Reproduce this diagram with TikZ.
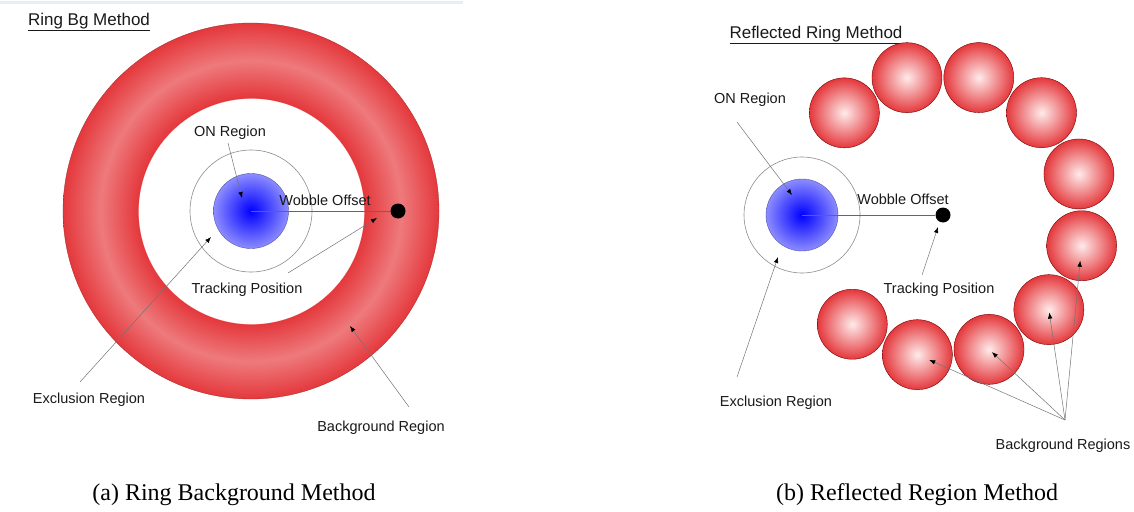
\documentclass[tikz,border=0pt]{standalone}
\usepackage{fontspec}
\setmainfont{Liberation Serif}
\newfontfamily\labelfont{Liberation Sans}
\usetikzlibrary{arrows.meta,calc}
\definecolor{ringred}{RGB}{228,56,60}
\definecolor{ringpale}{RGB}{238,122,124}
\definecolor{topline}{RGB}{230,237,247}
\pgfdeclareradialshading{ringbg}{\pgfpoint{0bp}{0bp}}{color(0bp)=(white); color(15bp)=(white); color(15.05bp)=(ringred); color(20bp)=(ringpale); color(25bp)=(ringred); color(50bp)=(ringred)}
\def\ringout{188}
\def\reflrad{142}

\begin{document}
\begin{tikzpicture}[x=1pt,y=-1pt]
      \tikzstyle{lbl}=[font=\labelfont\fontsize{14.5}{16}\selectfont, text=black!90, inner sep=1pt]
      \tikzstyle{heading}=[lbl, font=\labelfont\fontsize{17}{19}\selectfont]
      \tikzstyle{caption}=[font=\fontsize{24}{28}\selectfont]
      \tikzstyle{region}=[circle, inner sep=0pt]
      \tikzstyle{exclusion}=[region, draw=black!45, line width=0.6pt]
      \tikzstyle{on region}=[region, inner color=blue, outer color=blue!45!white, draw=blue!35!gray, line width=0.4pt]
      \tikzstyle{bg region}=[region, minimum size=70pt, inner color=red!8, outer color=ringred, draw=red!45!black, line width=0.4pt]
      \tikzstyle{track}=[region, fill=black, minimum size=15pt]
      \tikzstyle{wobble line}=[draw=black!60, line width=0.6pt]
      \tikzstyle{pointer}=[-{Latex[length=6pt,width=4.5pt,color=black]}, draw=black!55, line width=0.5pt]

      \useasboundingbox (0,0) rectangle (1134,511);
      \draw[topline, line width=3pt] (0,3) -- (463,3);

      % Ring background method
      \node[heading] (title-a) at (89,22) {\underline{Ring Bg Method}};
      \coordinate (C-a) at (251,211);
      \shade[shading=ringbg] (C-a) circle (\ringout);
      \draw[ringred!70!black, line width=0.3pt] (C-a) circle (\ringout);
      \node[exclusion, minimum size=122pt] (X-a) at (C-a) {};
      \node[on region, minimum size=75pt] (ON-a) at (C-a) {};
      \node[track] (T-a) at (398,211) {};
      \draw[wobble line] (ON-a.center) -- (T-a);

      \node[lbl] (on-a) at (230,133) {ON Region};
      \node[lbl] (wob-a) at (325,200) {Wobble Offset};
      \node[lbl] (trk-a) at (247,290) {Tracking Position};
      \node[lbl] (exc-a) at (89,400) {Exclusion Region};
      \node[lbl] (bkg-a) at (381,428) {Background Region};

      % Reflected region method
      \node[heading] (title-b) at (816,35) {\underline{Reflected Ring Method}};
      \coordinate (C-b) at (802,215);
      \node[exclusion, minimum size=116pt] (X-b) at (C-b) {};
      \node[on region, minimum size=72pt] (ON-b) at (C-b) {};
      \node[track] (T-b) at (943,215) {};
      \draw[wobble line] (ON-b.center) -- (T-b);

      % Background regions on a circle round the tracking position
      \foreach \i in {0,...,9}
          \node[bg region] (B-\i) at ($(T-b)+({-134+29.3*\i}:\reflrad)$) {};

      \node[lbl] (on-b) at (750,100) {ON Region};
      \node[lbl] (wob-b) at (903,199) {Wobble Offset};
      \node[lbl] (trk-b) at (939,290) {Tracking Position};
      \node[lbl] (exc-b) at (776,403) {Exclusion Region};
      \node[lbl] (bkg-b) at (1063,446) {Background Regions};

      % Pointers from the labels
      \foreach \n/\s/\t in {on-a/{228,143}/{242,198}, trk-a/{288,273}/{377,218},
              exc-a/{80,382}/{211,237}, bkg-a/{409,407}/{350,326},
              on-b/{737,122}/{792,195}, trk-b/{922,275}/{938,227},
              exc-b/{737,377}/{778,257}}
      {
          \coordinate (\n-s) at (\s);
          \coordinate (\n-t) at (\t);
          \draw[pointer] (\n-s) -- (\n-t);
      }
      \coordinate (bkg-b-s) at (1065,420);
      \foreach \i/\gap in {5/15pt,6/3pt,7/4pt,8/13pt}
          \draw[pointer, shorten >=\gap] (bkg-b-s) -- (B-\i.center);

      % Captions
      \node[caption] (cap-a) at (234,495) {(a) Ring Background Method};
      \node[caption] (cap-b) at (917,495) {(b) Reflected Region Method};
\end{tikzpicture}
\end{document}
